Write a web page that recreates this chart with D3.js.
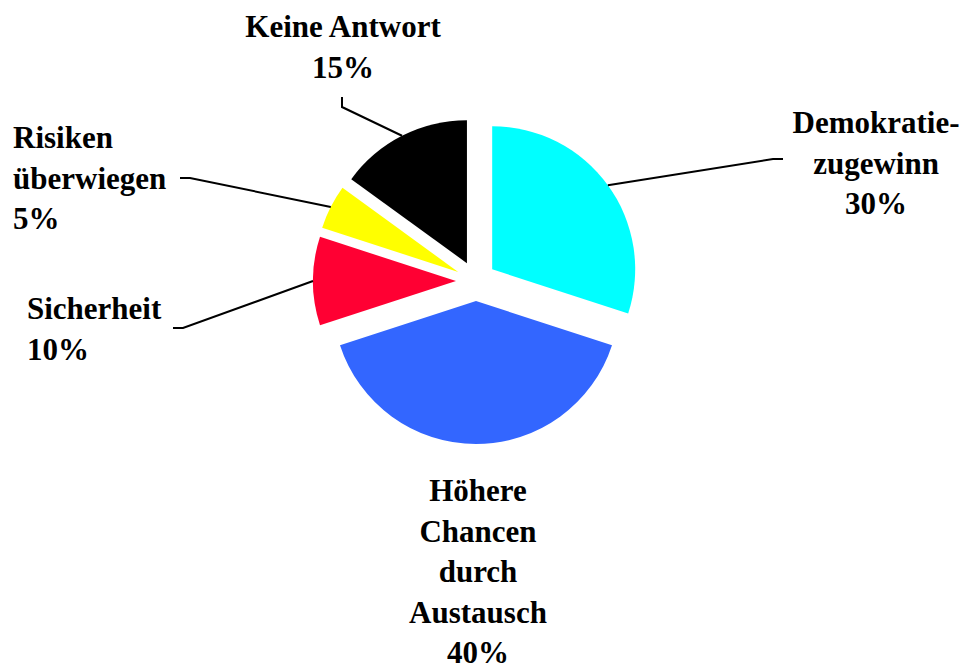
<!DOCTYPE html>
<html>
<head>
<meta charset="utf-8">
<script src="https://cdn.jsdelivr.net/npm/d3@7"></script>
<style>
  body { margin: 0; background: #fff; }
  svg text { font-family: "Liberation Serif", "Times New Roman", serif; font-weight: bold; font-size: 31px; fill: #000; }
</style>
</head>
<body>
<div id="chart"></div>
<script>
// data, clockwise from 12 o'clock
var categories = [["Demokratie-", "zugewinn"], ["Höhere", "Chancen", "durch", "Austausch"], ["Sicherheit"], ["Risiken", "überwiegen"], ["Keine Antwort"]];
var values = [30, 40, 10, 5, 15];
var colors = ["#00ffff", "#3366ff", "#ff0033", "#ffff00", "#000000"];

var width = 960, height = 664;
var cx = 476, cy = 281, radius = 143, explode = 20;

// label layout: first baseline, anchor, leader elbow points (label side)
var labelPos = [
  {x: 876, y: 133, anchor: "middle", elbow: [[773, 159], [783, 159]]},
  {x: 478, y: 501, anchor: "middle", elbow: null},
  {x: 27,  y: 319, anchor: "start",  elbow: [[183, 328], [173, 328]]},
  {x: 13,  y: 148, anchor: "start",  elbow: [[190, 178], [180, 178]]},
  {x: 343, y: 37,  anchor: "middle", elbow: [[342, 107], [342, 97]]}
];
var lineH = 40.5;

var svg = d3.select("#chart")
    .append("svg")
    .attr("width", width)
    .attr("height", height);

var total = d3.sum(values);
var pie = d3.pie().sort(null).value(function(d) { return d; });
var arcs = pie(values);

var arc = d3.arc().innerRadius(0).outerRadius(radius);

function midAngle(d) { return (d.startAngle + d.endAngle) / 2; }

var g = svg.append("g")
    .attr("transform", "translate(" + cx + "," + cy + ")");

// slices, pulled out along their middle angle
g.selectAll("path.slice")
    .data(arcs)
    .enter()
    .append("path")
    .attr("class", "slice")
    .attr("d", arc)
    .attr("transform", function(d) {
        var a = midAngle(d);
        return "translate(" + (Math.sin(a) * explode) + "," + (-Math.cos(a) * explode) + ")";
    })
    .style("fill", function(d, i) { return colors[i]; });

// leader lines from the arc midpoint to the label
arcs.forEach(function(d, i) {
    var p = labelPos[i];
    if (!p.elbow) return;
    var a = midAngle(d);
    var r = radius + explode;
    var start = [cx + Math.sin(a) * r, cy - Math.cos(a) * r];
    var pts = [start].concat(p.elbow);
    svg.append("path")
        .attr("d", d3.line()(pts))
        .attr("fill", "none")
        .attr("stroke", "#000")
        .attr("stroke-width", 2);
});

// labels
arcs.forEach(function(d, i) {
    var p = labelPos[i];
    var lines = categories[i].concat([Math.round(values[i] / total * 100) + "%"]);
    var t = svg.append("text")
        .attr("text-anchor", p.anchor);
    lines.forEach(function(s, k) {
        t.append("tspan")
            .attr("x", p.x)
            .attr("y", p.y + k * lineH)
            .text(s);
    });
});
</script>
</body>
</html>
